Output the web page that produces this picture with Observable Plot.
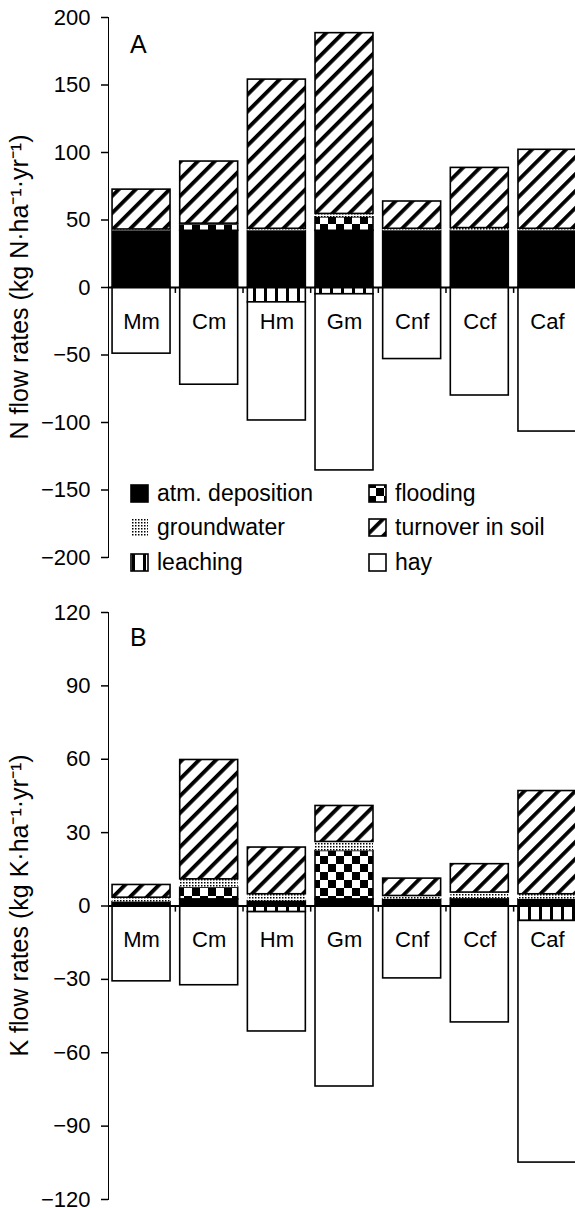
<!DOCTYPE html>
<html><head><meta charset="utf-8">
<script src="https://cdn.jsdelivr.net/npm/d3@7"></script>
<script src="https://cdn.jsdelivr.net/npm/@observablehq/plot@0.6"></script>
<style>
html,body{margin:0;padding:0;background:#fff;overflow:hidden;}
#wrap{width:575px;height:1208px;overflow:hidden;position:relative;background:#fff;}
#wrap svg{display:block;max-width:none !important;}
</style></head><body><div id="wrap"></div>
<script>
const sites = ["Mm","Cm","Hm","Gm","Cnf","Ccf","Caf"];
const flows = ["atm. deposition","flooding","groundwater","turnover in soil","leaching","hay"];

// Panel A: N flow rates (kg N·ha-1·yr-1)
const nAtm      = [42, 42, 42, 42, 42, 42, 42];
const nFlood    = [0, 4.5, 0, 10, 0, 0, 0];
const nGround   = [1, 0.8, 1.5, 2.5, 1.5, 2, 1.5];
const nTurnover = [29.5, 46, 110.5, 133.9, 20.2, 44.6, 58.5];
const nLeach    = [0, 0, -11, -5, 0, 0, 0];
const nHay      = [-49, -72, -87.5, -130.5, -53, -80, -106.7];

// Panel B: K flow rates (kg K·ha-1·yr-1)
const kAtm      = [1.6, 2.7, 2, 2.7, 2.7, 3, 2.7];
const kFlood    = [0, 4.8, 0, 19.8, 0, 0, 0];
const kGround   = [1.8, 3.4, 2.8, 3.7, 1.4, 2.5, 2.1];
const kTurnover = [5.2, 48.8, 19.1, 14.7, 7.1, 11.6, 42.2];
const kLeach    = [0, 0, -2.5, 0, 0, 0, -6.1];
const kHay      = [-30.8, -32.4, -48.8, -73.8, -29.6, -47.6, -98.8];

const yTicksA = [-200, -150, -100, -50, 0, 50, 100, 150, 200];
const yTicksB = [-120, -90, -60, -30, 0, 30, 60, 90, 120];

const FONT = '"Liberation Sans", Arial, Helvetica, sans-serif';
const W = 582, ML = 108, MR = 2, PI = 0.143, PO = 0.06;

function rows(series) {
  const out = [];
  sites.forEach((s, i) => flows.forEach((f, j) => {
    const v = series[j][i];
    if (v !== 0) out.push({site: s, flow: f, value: v});
  }));
  return out;
}

function addDefs(svg, id) {
  const defs = d3.select(svg).insert("defs", ":first-child");
  const h = defs.append("pattern").attr("id", id + "-hatch").attr("patternUnits", "userSpaceOnUse")
    .attr("width", 12).attr("height", 12).attr("patternTransform", "rotate(45)");
  h.append("rect").attr("width", 12).attr("height", 12).attr("fill", "white");
  h.append("rect").attr("width", 3.8).attr("height", 12).attr("fill", "black");
  const c = defs.append("pattern").attr("id", id + "-flood").attr("patternUnits", "userSpaceOnUse")
    .attr("width", 16).attr("height", 16);
  c.append("rect").attr("width", 16).attr("height", 16).attr("fill", "white");
  c.append("rect").attr("width", 8).attr("height", 8).attr("fill", "black");
  c.append("rect").attr("x", 8).attr("y", 8).attr("width", 8).attr("height", 8).attr("fill", "black");
  const g = defs.append("pattern").attr("id", id + "-gw").attr("patternUnits", "userSpaceOnUse")
    .attr("width", 3).attr("height", 3);
  g.append("rect").attr("width", 3).attr("height", 3).attr("fill", "white");
  g.append("rect").attr("width", 1.5).attr("height", 1.5).attr("fill", "black");
  const l = defs.append("pattern").attr("id", id + "-leach").attr("patternUnits", "userSpaceOnUse")
    .attr("width", 11).attr("height", 11);
  l.append("rect").attr("width", 11).attr("height", 11).attr("fill", "white");
  l.append("rect").attr("width", 3).attr("height", 11).attr("fill", "black");
}

function panel({data, domain, ticks, height, marginTop, marginBottom, id, letter, letterY, yLabel, tickLen}) {
  const fills = {
    "atm. deposition": "black",
    "flooding": `url(#${id}-flood)`,
    "groundwater": `url(#${id}-gw)`,
    "turnover in soil": `url(#${id}-hatch)`,
    "leaching": `url(#${id}-leach)`,
    "hay": "white"
  };
  const xs = d3.scaleBand(sites, [ML, W - MR]).paddingInner(PI).paddingOuter(PO);
  const svg = Plot.plot({
    width: W, height, marginLeft: ML, marginRight: MR, marginTop, marginBottom,
    style: {fontFamily: FONT, fontSize: "22px", background: "white", color: "black", overflow: "hidden", maxWidth: "none"},
    x: {domain: sites, paddingInner: PI, paddingOuter: PO, round: false, axis: null},
    y: {domain, ticks, tickSize: 7, tickPadding: 11, line: true, label: null},
    marks: [
      Plot.barY(data, Plot.stackY({
        x: "site", y: "value", z: "flow",
        fill: d => fills[d.flow],
        stroke: d => d.flow === "groundwater" ? "none" : "black",
        strokeWidth: 1.6
      })),
      Plot.ruleY([0], {stroke: "black", strokeWidth: 2}),
      Plot.ruleX(sites.slice(0, -1), {x: d => d, y1: 0, y2: tickLen, dx: xs.step() / 2, stroke: "black", strokeWidth: 1.5}),
      Plot.text(sites, {x: d => d, y: 0, dy: 34, text: d => d, fontSize: 22, fill: "black"})
    ]
  });
  svg.style.maxWidth = "none";
  addDefs(svg, id);
  const s = d3.select(svg);
  s.selectAll("g[aria-label='y-axis'] line, g[aria-label='y-axis tick'] path, g[aria-label='y-axis tick'] line").attr("stroke-width", 1.5);
  s.append("text").attr("x", 130).attr("y", letterY).attr("text-anchor", "start")
    .attr("font-size", 25).attr("font-family", FONT).text(letter);
  const cy = (marginTop + height - marginBottom) / 2;
  s.append("text").attr("transform", `translate(28,${cy}) rotate(-90)`).attr("text-anchor", "middle")
    .attr("font-size", 25).attr("font-family", FONT).text(yLabel);
  return {svg, fills};
}

const wrap = document.getElementById("wrap");

const A = panel({
  data: rows([nAtm, nFlood, nGround, nTurnover, nLeach, nHay]),
  domain: [-200, 200], ticks: yTicksA, height: 600, marginTop: 17, marginBottom: 43,
  id: "a", letter: "A", letterY: 53, yLabel: "N flow rates (kg N·ha⁻¹·yr⁻¹)", tickLen: -4.4
});
wrap.appendChild(A.svg);

// Legend inside panel A
const legendItems = [
  {flow: "atm. deposition", col: 0, row: 0},
  {flow: "flooding", col: 1, row: 0},
  {flow: "groundwater", col: 0, row: 1},
  {flow: "turnover in soil", col: 1, row: 1},
  {flow: "leaching", col: 0, row: 2},
  {flow: "hay", col: 1, row: 2}
];
const colX = [130, 368], rowY = [493, 527, 562];
const lg = d3.select(A.svg).append("g").attr("text-anchor", "start");
legendItems.forEach(it => {
  const x = colX[it.col], y = rowY[it.row];
  lg.append("rect").attr("x", x + 1).attr("y", y - 8).attr("width", 17).attr("height", 17)
    .attr("fill", A.fills[it.flow])
    .attr("stroke", it.flow === "groundwater" ? "none" : "black").attr("stroke-width", 1.6);
  lg.append("text").attr("x", x + 27).attr("y", y + 8).attr("text-anchor", "start")
    .attr("font-size", 23).attr("font-family", FONT).text(it.flow);
});

const B = panel({
  data: rows([kAtm, kFlood, kGround, kTurnover, kLeach, kHay]),
  domain: [-120, 120], ticks: yTicksB, height: 608, marginTop: 12, marginBottom: 9,
  id: "b", letter: "B", letterY: 46, yLabel: "K flow rates (kg K·ha⁻¹·yr⁻¹)", tickLen: -2.5
});
wrap.appendChild(B.svg);
</script></body></html>
